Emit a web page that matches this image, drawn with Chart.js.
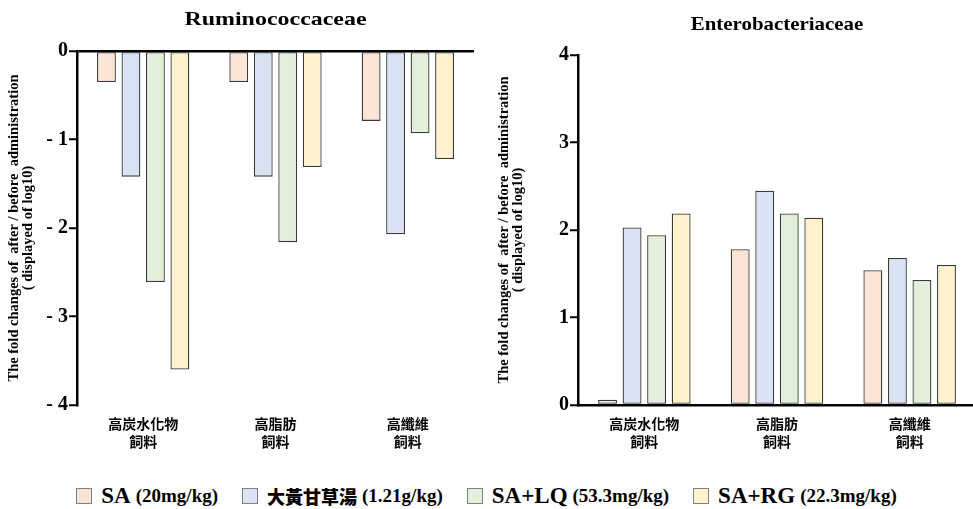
<!DOCTYPE html>
<html>
<head>
<meta charset="utf-8">
<script src="https://cdn.jsdelivr.net/npm/chart.js@4.4.0/dist/chart.umd.min.js"></script>
<style>
  body { margin: 0; background: #fff; overflow: hidden; width: 973px; height: 509px; position: relative; }
  canvas { position: absolute; top: 0; }
  #left { left: 0; }
  #right { left: 490px; }
  #legend {
    position: absolute; top: 483px; left: 0; width: 973px;
    display: flex; justify-content: center; align-items: center;
    font-family: "Liberation Serif", serif; font-weight: bold; color: #000;
  }
  .item { display: flex; align-items: center; margin: 0 12px; white-space: nowrap; }
  .box { width: 14px; height: 14px; border: 1px solid #808080; margin-right: 9px; }
  .name { font-size: 23px; margin-right: 5px; }
  .name.cjk { font-family: "Noto Sans CJK TC", sans-serif; font-weight: 900; font-size: 18px; }
  .dose { font-size: 19px; }
</style>
</head>
<body>
<canvas id="left" width="490" height="455"></canvas>
<canvas id="right" width="490" height="455"></canvas>
<div id="legend"></div>
<script>
// categories (two-line tick labels)
var categories = [["高炭水化物", "飼料"], ["高脂肪", "飼料"], ["高纖維", "飼料"]];

// series
var seriesNames = ["SA", "大黃甘草湯", "SA+LQ", "SA+RG"];
var seriesDoses = ["(20mg/kg)", "(1.21g/kg)", "(53.3mg/kg)", "(22.3mg/kg)"];
var seriesColors = ["#fce4d6", "#dae3f3", "#e2efda", "#fff2cc"];

// Ruminococcaceae (log10 fold change), per series over categories
var rumiSA = [-0.35, -0.35, -0.79];
var rumiDHT = [-1.42, -1.42, -2.07];
var rumiLQ = [-2.61, -2.16, -0.93];
var rumiRG = [-3.60, -1.31, -1.22];

// Enterobacteriaceae
var enteSA = [0.06, 1.78, 1.54];
var enteDHT = [2.03, 2.45, 1.68];
var enteLQ = [1.94, 2.19, 1.43];
var enteRG = [2.19, 2.14, 1.60];

var rumiTicks = [0, -1, -2, -3, -4];
var enteTicks = [0, 1, 2, 3, 4];

var yTitle = ["The fold changes of  after / before  administration", "( displayed of log10)"];

function makeDatasets(arrs) {
  return arrs.map(function (d, i) {
    return {
      label: seriesNames[i] + " " + seriesDoses[i],
      data: d,
      backgroundColor: seriesColors[i],
      borderColor: "#3a3a3a",
      borderWidth: 1.3,
      borderSkipped: false,
      categoryPercentage: 0.74,
      barPercentage: 0.77
    };
  });
}

// title centered over the plot area, a bit stretched like the original
var areaTitle = {
  id: "areaTitle",
  afterDraw: function (chart, args, opts) {
    var ctx = chart.ctx;
    var a = chart.chartArea;
    ctx.save();
    ctx.font = "bold " + opts.size + "px 'Liberation Serif'";
    ctx.fillStyle = "#000";
    ctx.textAlign = "center";
    ctx.textBaseline = "middle";
    ctx.translate((a.left + a.right) / 2, opts.y);
    ctx.scale(opts.sx, 1);
    ctx.fillText(opts.text, 0, 0);
    ctx.restore();
  }
};

function makeChart(id, datasets, ticks, min, max, title, zeroOnTop, lay) {
  return new Chart(document.getElementById(id), {
    type: "bar",
    data: { labels: categories, datasets: datasets },
    plugins: [areaTitle],
    options: {
      responsive: false,
      animation: false,
      devicePixelRatio: 1,
      layout: { padding: { top: lay.top, right: lay.right, left: 0, bottom: 0 } },
      plugins: {
        legend: { display: false },
        tooltip: { enabled: false },
        areaTitle: { text: title, y: lay.titleY, size: 19, sx: lay.sx }
      },
      scales: {
        x: {
          grid: { display: false },
          border: { display: !zeroOnTop, color: "#000", width: 2.5 },
          ticks: {
            color: "#000",
            padding: 2,
            font: { family: "'Noto Sans CJK TC'", weight: "bold", size: 14, lineHeight: 1.25 }
          },
          afterFit: function (s) { s.height = 50; }
        },
        y: {
          min: min,
          max: max,
          afterBuildTicks: function (s) {
            s.ticks = ticks.map(function (v) { return { value: v }; });
          },
          grid: {
            drawOnChartArea: zeroOnTop,
            color: function (c) { return c.tick && c.tick.value === 0 ? "#000" : "rgba(0,0,0,0)"; },
            lineWidth: 2.5,
            tickColor: "#000",
            tickWidth: 2,
            tickLength: 8
          },
          border: { display: true, color: "#000", width: 2.5 },
          ticks: {
            color: "#000",
            padding: 1,
            font: { family: "'Liberation Serif'", weight: "bold", size: 20 },
            callback: function (v) { return v < 0 ? "- " + Math.abs(v) : String(v); }
          },
          title: {
            display: true,
            text: yTitle,
            color: "#000",
            padding: { top: 7, bottom: 0 },
            font: { family: "'Liberation Serif'", weight: "bold", size: 14.5, lineHeight: 14 / 14.5 }
          },
          afterFit: function (s) { s.width = lay.yWidth; }
        }
      }
    }
  });
}

makeChart("left", makeDatasets([rumiSA, rumiDHT, rumiLQ, rumiRG]), rumiTicks, -4, 0,
  "Ruminococcaceae", true, { top: 51, right: 16, titleY: 20, sx: 1.26, yWidth: 77 });
makeChart("right", makeDatasets([enteSA, enteDHT, enteLQ, enteRG]), enteTicks, 0, 4,
  "Enterobacteriaceae", false, { top: 55, right: 4, titleY: 25, sx: 1.1, yWidth: 88 });

// legend
var legend = document.getElementById("legend");
seriesNames.forEach(function (n, i) {
  var cjk = /[\u4e00-\u9fff]/.test(n) ? " cjk" : "";
  legend.innerHTML += '<div class="item"><div class="box" style="background:' + seriesColors[i] +
    '"></div><span class="name' + cjk + '">' + n + '</span><span class="dose">' + seriesDoses[i] + '</span></div>';
});
</script>
</body>
</html>
